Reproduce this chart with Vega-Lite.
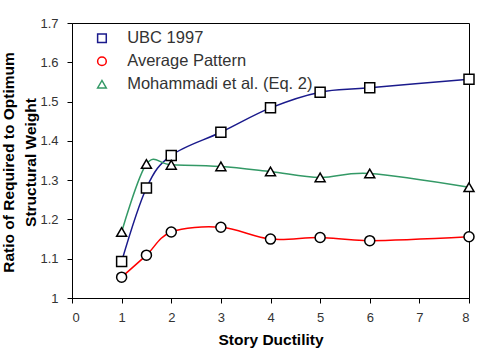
{
  "$schema": "https://vega.github.io/schema/vega-lite/v6.json",
  "width": 397,
  "height": 275,
  "autosize": {"type": "none"},
  "padding": {"left": 72, "top": 23, "right": 10, "bottom": 54},
  "background": "white",
  "config": {
    "view": {"stroke": "black", "strokeWidth": 1},
    "font": "Liberation Sans",
    "axis": {
      "grid": false,
      "domainColor": "black",
      "tickColor": "black",
      "tickSize": 5,
      "labelFont": "Liberation Sans",
      "labelFontSize": 13,
      "labelColor": "#333333",
      "titleFont": "Liberation Sans",
      "titleFontSize": 15.5,
      "titleFontWeight": "bold",
      "titleColor": "black"
    },
    "legend": {
      "labelFont": "Liberation Sans",
      "labelFontSize": 16.5,
      "labelColor": "#333333",
      "labelLimit": 400,
      "padding": 0
    }
  },
  "data": {
    "values": [
      {"series": "UBC 1997", "ductility": 1, "ratio": 1.093},
      {"series": "UBC 1997", "ductility": 1.5, "ratio": 1.28},
      {"series": "UBC 1997", "ductility": 2, "ratio": 1.363},
      {"series": "UBC 1997", "ductility": 3, "ratio": 1.422},
      {"series": "UBC 1997", "ductility": 4, "ratio": 1.484},
      {"series": "UBC 1997", "ductility": 5, "ratio": 1.524},
      {"series": "UBC 1997", "ductility": 6, "ratio": 1.535},
      {"series": "UBC 1997", "ductility": 8, "ratio": 1.557},
      {"series": "Average Pattern", "ductility": 1, "ratio": 1.053},
      {"series": "Average Pattern", "ductility": 1.5, "ratio": 1.109},
      {"series": "Average Pattern", "ductility": 2, "ratio": 1.168},
      {"series": "Average Pattern", "ductility": 3, "ratio": 1.18},
      {"series": "Average Pattern", "ductility": 4, "ratio": 1.15},
      {"series": "Average Pattern", "ductility": 5, "ratio": 1.154},
      {"series": "Average Pattern", "ductility": 6, "ratio": 1.146},
      {"series": "Average Pattern", "ductility": 8, "ratio": 1.156},
      {"series": "Mohammadi et al. (Eq. 2)", "ductility": 1, "ratio": 1.168},
      {"series": "Mohammadi et al. (Eq. 2)", "ductility": 1.5, "ratio": 1.341},
      {"series": "Mohammadi et al. (Eq. 2)", "ductility": 2, "ratio": 1.339},
      {"series": "Mohammadi et al. (Eq. 2)", "ductility": 3, "ratio": 1.335},
      {"series": "Mohammadi et al. (Eq. 2)", "ductility": 4, "ratio": 1.322},
      {"series": "Mohammadi et al. (Eq. 2)", "ductility": 5, "ratio": 1.307},
      {"series": "Mohammadi et al. (Eq. 2)", "ductility": 6, "ratio": 1.317},
      {"series": "Mohammadi et al. (Eq. 2)", "ductility": 8, "ratio": 1.282}
    ]
  },
  "encoding": {
    "x": {
      "field": "ductility",
      "type": "quantitative",
      "scale": {"domain": [0, 8], "nice": false},
      "axis": {
        "title": "Story Ductility",
        "values": [0, 1, 2, 3, 4, 5, 6, 7, 8],
        "labelPadding": 8,
        "titlePadding": 8
      }
    },
    "y": {
      "field": "ratio",
      "type": "quantitative",
      "scale": {"domain": [1, 1.7], "nice": false, "zero": false},
      "axis": {
        "title": ["Ratio of Required to Optimum", "Structural Weight"],
        "values": [1, 1.1, 1.2, 1.3, 1.4, 1.5, 1.6, 1.7],
        "format": ".1~f",
        "labelPadding": 9,
        "titleAngle": -90,
        "titleBaseline": "alphabetic",
        "titleAlign": "center",
        "titleX": -58.5,
        "titleY": 139,
        "titleLineHeight": 22
      }
    }
  },
  "layer": [
    {
      "mark": {"type": "line", "interpolate": "cardinal", "strokeWidth": 1.5},
      "encoding": {
        "color": {
          "field": "series",
          "type": "nominal",
          "scale": {
            "domain": ["UBC 1997", "Average Pattern", "Mohammadi et al. (Eq. 2)"],
            "range": ["#1a1a8c", "#ff0000", "#339966"]
          },
          "legend": {
            "title": null,
            "orient": "none",
            "legendX": 21.7,
            "legendY": 7,
            "symbolSize": 75,
            "symbolStrokeWidth": 1.5,
            "labelOffset": 17,
            "rowPadding": 6,
            "encode": {
              "symbols": {
                "update": {
                  "shape": {"signal": "datum.value === 'UBC 1997' ? 'M-4.78,0H-1.04M1.04,0H4.78M-1.04,-1.04H1.04V1.04H-1.04Z' : datum.value === 'Average Pattern' ? 'M-4.78,0H-1.1M1.1,0H4.78M-1.1,0A1.1,1.1,0,1,0,1.1,0A1.1,1.1,0,1,0,-1.1,0Z' : 'M-4.78,0H-0.66M0.66,0H4.78M0,-1.15L1.2,0.95L-1.2,0.95Z'"},
                  "fill": {"value": "white"},
                  "stroke": {"scale": "color", "field": "value"},
                  "strokeWidth": {"value": 1.5},
                  "opacity": {"value": 1}
                }
              }
            }
          }
        }
      }
    },
    {
      "mark": {"type": "point", "filled": true, "fill": "white", "stroke": "black", "strokeWidth": 1.5, "size": 100, "opacity": 1},
      "encoding": {
        "shape": {
          "field": "series",
          "type": "nominal",
          "scale": {
            "domain": ["UBC 1997", "Average Pattern", "Mohammadi et al. (Eq. 2)"],
            "range": ["square", "circle", "triangle-up"]
          },
          "legend": null
        }
      }
    }
  ]
}
